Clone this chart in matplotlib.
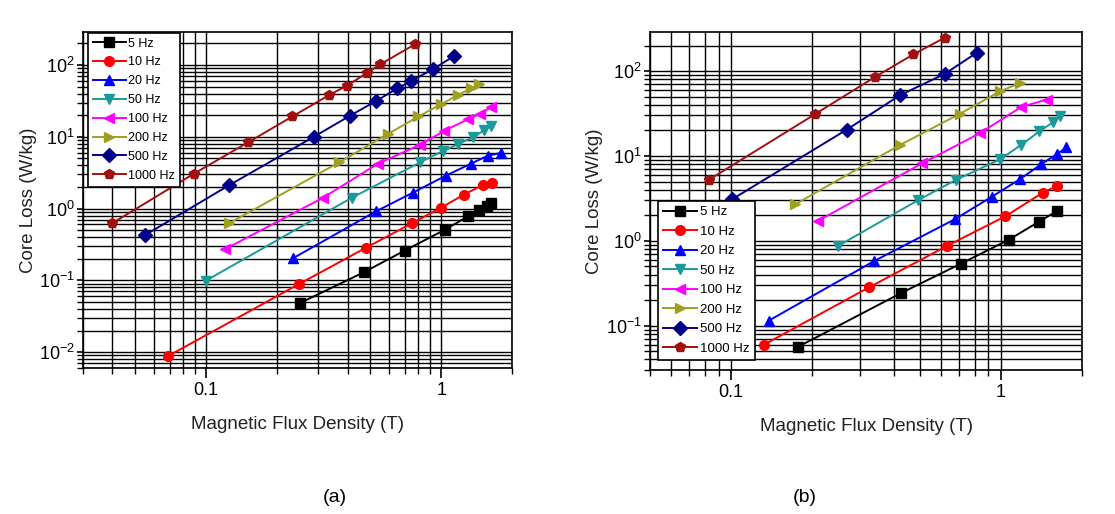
import matplotlib
matplotlib.use("Agg")
import matplotlib.pyplot as plt
from matplotlib.ticker import LogLocator, NullFormatter

plt.rcParams["font.family"] = ["Liberation Sans", "DejaVu Sans"]

labels = ["5 Hz", "10 Hz", "20 Hz", "50 Hz", "100 Hz", "200 Hz", "500 Hz", "1000 Hz"]
colors = ["#000000", "#ff0000", "#0000ff", "#1a9a9a", "#ff00ff", "#a0a020", "#00008b", "#a01010"]
markers = ["s", "o", "^", "v", "<", ">", "D", "p"]

# panel (a)
a_b = [
    [0.25, 0.47, 0.70, 1.04, 1.30, 1.45, 1.57, 1.63],
    [0.069, 0.249, 0.48, 0.748, 1.0, 1.25, 1.5, 1.64],
    [0.235, 0.53, 0.756, 1.05, 1.34, 1.58, 1.79],
    [0.10, 0.416, 0.815, 1.02, 1.18, 1.37, 1.52, 1.63],
    [0.12, 0.314, 0.539, 0.815, 1.03, 1.30, 1.46, 1.63],
    [0.125, 0.369, 0.595, 0.80, 1.0, 1.18, 1.34, 1.45],
    [0.0553, 0.125, 0.289, 0.411, 0.53, 0.652, 0.744, 0.927, 1.13],
    [0.0398, 0.089, 0.151, 0.233, 0.335, 0.398, 0.485, 0.55, 0.774],
]
a_loss = [
    [0.048, 0.13, 0.26, 0.51, 0.78, 0.95, 1.1, 1.2],
    [0.0088, 0.089, 0.286, 0.62, 1.03, 1.57, 2.12, 2.28],
    [0.204, 0.92, 1.66, 2.89, 4.23, 5.47, 5.95],
    [0.099, 1.41, 4.42, 6.4, 7.9, 9.9, 12.3, 14.3],
    [0.27, 1.41, 4.23, 7.77, 12.1, 17.6, 20.9, 25.9],
    [0.62, 4.42, 11.0, 19.2, 28.5, 38.4, 47.5, 53.9],
    [0.43, 2.1, 10.1, 19.8, 31.7, 47.5, 60.0, 88.0, 133.0],
    [0.62, 3.07, 8.37, 19.2, 38.4, 51.7, 78.0, 102.0, 195.0],
]

# panel (b)
b_b = [
    [0.177, 0.425, 0.71, 1.07, 1.38, 1.62],
    [0.132, 0.325, 0.63, 1.04, 1.43, 1.62],
    [0.138, 0.339, 0.676, 0.926, 1.18, 1.41, 1.62, 1.75],
    [0.249, 0.494, 0.68, 0.995, 1.19, 1.39, 1.56, 1.66],
    [0.21, 0.511, 0.838, 1.19, 1.48],
    [0.173, 0.423, 0.706, 0.995, 1.18],
    [0.101, 0.268, 0.423, 0.62, 0.815],
    [0.0824, 0.205, 0.341, 0.473, 0.62],
]
b_loss = [
    [0.0564, 0.241, 0.537, 1.03, 1.67, 2.26],
    [0.0595, 0.284, 0.869, 1.95, 3.69, 4.47],
    [0.115, 0.578, 1.8, 3.31, 5.35, 7.98, 10.6, 12.6],
    [0.87, 3.02, 5.21, 9.16, 13.5, 19.5, 24.9, 29.3],
    [1.72, 8.2, 18.6, 37.8, 46.2],
    [2.71, 13.5, 31.5, 57.9, 72.7],
    [3.1, 20.4, 52.0, 93.0, 165.0],
    [5.21, 31.2, 85.0, 157.0, 248.0],
]


def draw_panel(ax, xs, ys, xlim, ylim, legend_loc, legend_anchor, legend_fs, ylabelpad):
    for x, y, lab, c, m in zip(xs, ys, labels, colors, markers):
        ax.plot(x, y, color=c, marker=m, markersize=7, linewidth=1.4, label=lab)
    ax.set_xscale("log")
    ax.set_yscale("log")
    ax.set_xlim(*xlim)
    ax.set_ylim(*ylim)

    ax.xaxis.set_major_locator(LogLocator(base=10))
    ax.xaxis.set_minor_locator(LogLocator(base=10, subs=range(2, 10)))
    ax.yaxis.set_major_locator(LogLocator(base=10))
    ax.yaxis.set_minor_locator(LogLocator(base=10, subs=range(2, 10), numticks=20))
    ax.xaxis.set_minor_formatter(NullFormatter())
    ax.yaxis.set_minor_formatter(NullFormatter())
    ax.set_xticks([0.1, 1])
    ax.set_xticklabels(["0.1", "1"])

    ax.grid(True, which="both", color="black", linewidth=1.0)
    ax.set_axisbelow(True)
    ax.tick_params(which="major", direction="out", length=7, width=1.2, labelsize=13, pad=3)
    ax.tick_params(axis="y", which="major", length=4, pad=2)
    ax.tick_params(which="minor", direction="out", length=4, width=1.0)
    for s in ax.spines.values():
        s.set_linewidth(1.2)

    ax.set_xlabel("Magnetic Flux Density (T)", fontsize=13.5, color="#222222", labelpad=12)
    ax.set_ylabel("Core Loss (W/kg)", fontsize=13.5, color="#222222", labelpad=ylabelpad)

    leg = ax.legend(loc=legend_loc, bbox_to_anchor=legend_anchor, fontsize=legend_fs,
                    handlelength=2.6, labelspacing=0.55, borderaxespad=0.0,
                    borderpad=0.4, handletextpad=0.2,
                    fancybox=False, framealpha=1, edgecolor="black")
    leg.get_frame().set_linewidth(1.2)


fig = plt.figure(figsize=(11.15, 5.14), dpi=100)
ax_a = fig.add_axes([0.0744, 0.284, 0.3848, 0.654])
ax_b = fig.add_axes([0.583, 0.280, 0.3874, 0.658])

draw_panel(ax_a, a_b, a_loss, (0.03, 2.0), (0.006, 290), "upper left", (0.012, 0.998), 9, 1)
draw_panel(ax_b, b_b, b_loss, (0.05, 2.0), (0.03, 290), "lower left", (0.018, 0.03), 9.5, 2)

fig.text(0.300, 0.033, "(a)", fontsize=14, ha="center", va="center")
fig.text(0.722, 0.033, "(b)", fontsize=14, ha="center", va="center")

fig.savefig("out.png", dpi=100)
